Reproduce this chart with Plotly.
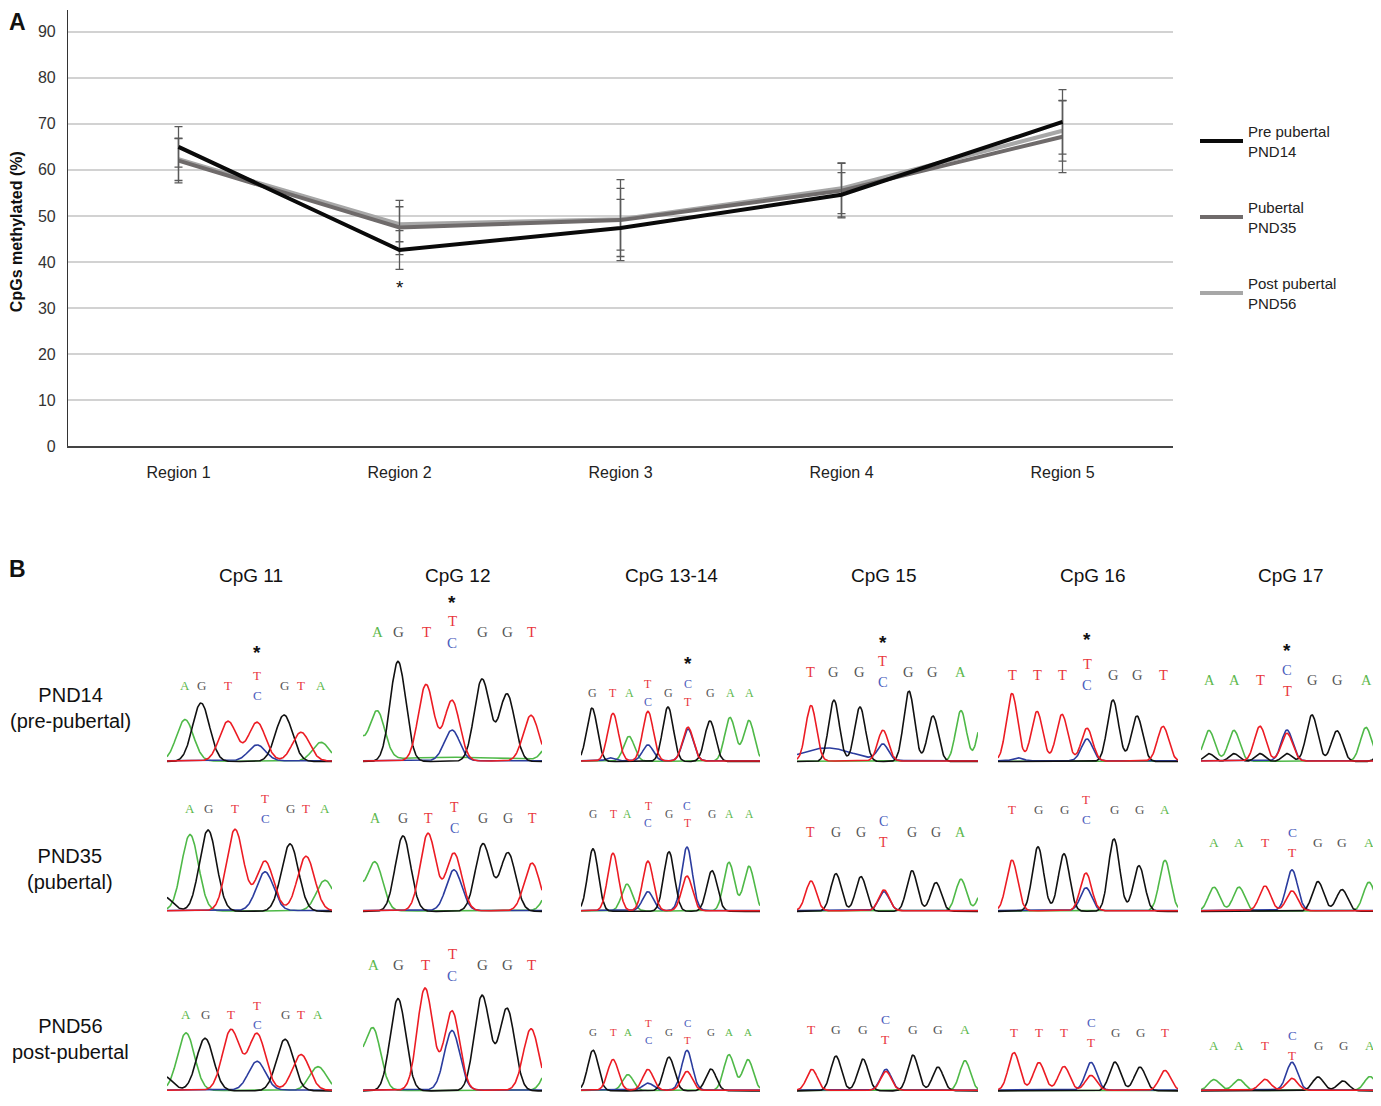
import numpy as np
import plotly.graph_objects as go

# ---------------- Panel A: methylation per region ----------------
regions = ["Region 1", "Region 2", "Region 3", "Region 4", "Region 5"]

pre_pubertal = [65.0, 42.6, 47.4, 54.6, 70.4]
pre_err = [4.4, 4.2, 6.2, 4.8, 7.0]

pubertal = [62.0, 47.5, 49.1, 55.5, 67.2]
pub_err = [4.8, 5.9, 8.8, 5.9, 7.8]

post_pubertal = [62.3, 48.2, 49.3, 56.0, 68.5]
post_err = [4.6, 3.8, 6.7, 5.5, 6.6]

# ---------------- Panel B: sequencing traces ----------------
cpg_titles = ["CpG 11", "CpG 12", "CpG 13-14", "CpG 15", "CpG 16", "CpG 17"]
stage_labels = ["PND14<br>(pre-pubertal)", "PND35<br>(pubertal)", "PND56<br>post-pubertal"]

# base calls: (call, scan offset, peak height[, height of second base])
pnd14 = [
    [("A", 18, 42), ("G", 34, 59), ("T", 61, 40), ("T/C", 90, 39, 16), ("G", 117, 47), ("T", 134, 29), ("A", 154, 19)],
    [("A", 14, 49), ("G", 35, 101), ("T", 63, 77), ("T/C", 89, 61, 31), ("G", 119, 83), ("G", 144, 68), ("T", 168, 46)],
    [("G", 11, 54), ("T", 32, 48), ("A", 48, 25), ("T/C", 67, 50, 16), ("G", 87, 55), ("C/T", 107, 32, 34),
     ("G", 129, 41), ("A", 149, 44), ("A", 168, 41)],
    [("T", 14, 56), ("G", 37, 62), ("G", 63, 55), ("T/C", 86, 31, 16), ("G", 112, 71), ("G", 136, 46), ("A", 164, 51)],
    [("T", 14, 68), ("T", 39, 50), ("T", 64, 47), ("T/C", 89, 33, 22), ("G", 115, 62), ("G", 139, 46), ("T", 165, 35)],
    [("A", 8, 31), ("A", 33, 31), ("T", 59, 35), ("C/T", 86, 31, 28), ("G", 111, 47), ("G", 136, 31), ("A", 165, 34)],
]
pnd35 = [
    [("A", 23, 77), ("G", 41, 82), ("T", 68, 82), ("T/C", 98, 50, 39), ("G", 123, 68), ("T", 139, 55), ("A", 158, 31)],
    [("A", 12, 49), ("G", 40, 76), ("T", 65, 78), ("T/C", 91, 58, 41), ("G", 120, 68), ("G", 145, 59), ("T", 169, 48)],
    [("G", 12, 63), ("T", 32, 58), ("A", 46, 27), ("T/C", 67, 50, 19), ("G", 88, 60), ("C/T", 106, 64, 35),
     ("G", 131, 41), ("A", 148, 49), ("A", 168, 45)],
    [("T", 14, 30), ("G", 39, 38), ("G", 64, 35), ("C/T", 87, 19, 21), ("G", 115, 41), ("G", 139, 29), ("A", 164, 32)],
    [("T", 14, 51), ("G", 40, 65), ("G", 66, 58), ("T/C", 88, 38, 23), ("G", 116, 73), ("G", 141, 46), ("A", 167, 51)],
    [("A", 13, 24), ("A", 38, 24), ("T", 64, 25), ("C/T", 91, 41, 20), ("G", 117, 30), ("G", 141, 22), ("A", 168, 29)],
]
pnd56 = [
    [("A", 19, 58), ("G", 38, 53), ("T", 64, 61), ("T/C", 90, 57, 29), ("G", 118, 52), ("T", 134, 36), ("A", 151, 24)],
    [("A", 10, 62), ("G", 35, 93), ("T", 62, 103), ("T/C", 89, 80, 60), ("G", 119, 96), ("G", 144, 83), ("T", 168, 62)],
    [("G", 12, 41), ("T", 32, 31), ("A", 47, 16), ("T/C", 67, 21, 7), ("G", 88, 34), ("C/T", 106, 40, 19),
     ("G", 130, 22), ("A", 148, 36), ("A", 167, 31)],
    [("T", 15, 21), ("G", 39, 35), ("G", 66, 32), ("C/T", 89, 21, 19), ("G", 116, 36), ("G", 141, 24), ("A", 168, 30)],
    [("T", 16, 38), ("T", 41, 28), ("T", 66, 24), ("C/T", 93, 28, 15), ("G", 117, 29), ("G", 142, 24), ("T", 167, 20)],
    [("A", 13, 11), ("A", 38, 11), ("T", 64, 11), ("C/T", 91, 28, 12), ("G", 117, 14), ("G", 142, 10), ("A", 169, 14)],
]

# signal outside the called bases: (channel, scan offset, height, width)
pnd14_extra = [
    [],
    [("A", -10, 35, 7.7), ("A", 190, 25, 7.7), ("A", 90, 4, 60)],
    [("C", 29, 3, 4)],
    [("C", 30, 13, 25), ("A", 186, 45, 5.3)],
    [("C", 20, 3, 5)],
    [("G", 8, 8, 5), ("G", 33, 8, 5), ("G", 59, 8, 5), ("G", 86, 8, 5), ("G", 180, 8, 5)],
]
pnd35_extra = [
    [("G", -3, 15, 8.5)],
    [("A", -10, 35, 7.7), ("A", 190, 30, 7.7)],
    [],
    [("A", 187, 25, 5.3)],
    [],
    [],
]
pnd56_extra = [
    [("G", -3, 15, 8.5)],
    [("A", -10, 40, 7.7), ("A", 190, 35, 7.7)],
    [],
    [],
    [],
    [],
]

# letter row height above baseline, star height (pre-pubertal only), letter size
pnd14_letters = [81, 135, 73, 95, 92, 86]
pnd35_letters = [108, 98, 102, 84, 107, 74]
pnd56_letters = [81, 131, 64, 66, 63, 50]
pnd14_stars = [116, 167, 105, 126, 129, 118]
star_slot = [3, 3, 5, 3, 3, 3]
letter_sizes = [[13, 15, 12, 14.5, 14.5, 14.5],
                [13, 14, 11.5, 14, 13, 13.5],
                [13, 15, 11, 13.5, 13, 13]]

# the page body adds an 8px margin, so the figure is laid out 8px in from the window
OFF = 8
W, H = 1373, 1098
FONT = "Arial, Liberation Sans, sans-serif"
BASE_FONT = "Liberation Serif, serif"


def fx(px):
    return (px - OFF) / W


def fy(py):
    return 1 - (py - OFF) / H


fig = go.Figure()

# Panel A traces, lightest first so black sits on top
series = [
    ("Post pubertal<br>PND56", post_pubertal, post_err, "#a7a7a7", 3),
    ("Pubertal<br>PND35", pubertal, pub_err, "#6f6b6b", 2),
    ("Pre pubertal<br>PND14", pre_pubertal, pre_err, "#0a0a0a", 1),
]
for name, vals, err, color, rank in series:
    fig.add_trace(
        go.Scatter(
            x=regions,
            y=vals,
            name=name,
            mode="lines",
            line=dict(color=color, width=4),
            error_y=dict(type="data", array=err, color="#5a5a5a", thickness=1.3, width=4),
            legendgroup=name,
            legendrank=rank,
        )
    )

# Panel B geometry
col_left = [167, 363, 581, 797, 998, 1201]
col_width = [165, 179, 179, 181, 180, 180]
row_base = [768, 919, 1100]
row_top = [590, 795, 955]
sigma = [8.5, 7.7, 5.3, 5.3, 5.6, 5.6]

trace_color = {"A": "#4fb948", "C": "#2b3c9e", "G": "#111111", "T": "#ec1c24"}
letter_color = {"A": "#5cb84c", "C": "#4a5cbc", "G": "#555555", "T": "#e8363c"}
base_offset = {"A": 0.6, "C": 1.0, "G": 0.2, "T": 0.8}

annotations = []
layout_axes = {}
stages = [pnd14, pnd35, pnd56]
extras = [pnd14_extra, pnd35_extra, pnd56_extra]
levels = [pnd14_letters, pnd35_letters, pnd56_letters]


def label(x, y, text, size, color="#111", family=FONT, xref="paper", yref="paper", **kw):
    return dict(x=x, y=y, xref=xref, yref=yref, text=text, showarrow=False,
                xanchor="center", yanchor="middle",
                font=dict(family=family, size=size, color=color), **kw)


n = 2
for r in range(3):
    for c in range(6):
        calls = stages[r][c]
        peaks = []
        for call in calls:
            for b, h in zip(call[0].split("/"), call[2:]):
                peaks.append((b, call[1], h, sigma[c]))
        peaks += extras[r][c]

        xs = np.linspace(0, col_width[c], 320)
        for ch in ["A", "C", "G", "T"]:
            ys = np.full_like(xs, base_offset[ch])
            for b, p, h, s in peaks:
                if b == ch:
                    ys += h * np.exp(-((xs - p) ** 2) / (2 * s * s))
            fig.add_trace(
                go.Scatter(
                    x=xs, y=ys, mode="lines",
                    line=dict(color=trace_color[ch], width=1.6),
                    xaxis=f"x{n}", yaxis=f"y{n}",
                    showlegend=False, hoverinfo="skip",
                )
            )

        fs = letter_sizes[r][c]
        lv = levels[r][c]
        for i, call in enumerate(calls):
            bases = call[0].split("/")
            if len(bases) == 1:
                spots = [(bases[0], lv)]
            else:
                spots = [(bases[0], lv + 0.75 * fs), (bases[1], lv - 0.75 * fs)]
            for b, yy in spots:
                annotations.append(label(call[1], yy, b, fs, letter_color[b], BASE_FONT,
                                         xref=f"x{n}", yref=f"y{n}", yshift=-4))
            if r == 0 and i == star_slot[c]:
                annotations.append(label(call[1], pnd14_stars[c] - 3, "<b>*</b>", 19,
                                         xref=f"x{n}", yref=f"y{n}", yshift=-3))

        hgt = row_base[r] - row_top[r]
        layout_axes[f"xaxis{n}"] = dict(
            domain=[fx(col_left[c]), fx(col_left[c] + col_width[c])],
            range=[0, col_width[c]], visible=False, anchor=f"y{n}",
        )
        layout_axes[f"yaxis{n}"] = dict(
            domain=[fy(row_base[r] + 3), fy(row_top[r])],
            range=[-3, hgt], visible=False, anchor=f"x{n}",
        )
        n += 1

# column titles and row labels
col_centers = [251, 457, 671, 884, 1092, 1290]
for t, cx in zip(cpg_titles, col_centers):
    annotations.append(label(fx(cx), fy(580), t, 19))
for t, cy in zip(stage_labels, [714, 876, 1048]):
    annotations.append(label(fx(70), fy(cy), t, 20))

# panel letters, axis title, significance mark
annotations += [
    label(fx(17), fy(22), "<b>A</b>", 23),
    label(fx(17), fy(574), "<b>B</b>", 23),
    label(fx(16), fy(234), "<b>CpGs methylated (%)</b>", 16, textangle=-90),
    label("Region 2", 34.5, "*", 19, xref="x", yref="y"),
]

fig.update_layout(
    width=W,
    height=H,
    margin=dict(l=0, r=0, t=0, b=0),
    paper_bgcolor="white",
    plot_bgcolor="white",
    font=dict(family=FONT, color="#222"),
    xaxis=dict(
        domain=[fx(68), fx(1173)], type="category", range=[-0.5, 4.5],
        showline=True, linecolor="#444", linewidth=1.5, showgrid=False,
        ticks="", tickfont=dict(size=16, color="#222"), anchor="y",
        ticklabelstandoff=11,
    ),
    yaxis=dict(
        domain=[fy(450), fy(10)], range=[0, 94.7],
        tickvals=list(range(0, 100, 10)), showgrid=True, gridcolor="#d2d2d2", gridwidth=1.5,
        showline=True, linecolor="#333", linewidth=1.2, zeroline=False,
        tickfont=dict(size=16, color="#333"), anchor="x",
        ticklabelstandoff=8,
    ),
    legend=dict(
        x=fx(1195), y=fy(116), xanchor="left", yanchor="top",
        font=dict(family=FONT, size=15, color="#222"),
        itemwidth=43, tracegroupgap=34, bgcolor="rgba(0,0,0,0)",
    ),
    annotations=annotations,
    **layout_axes,
)

fig.write_html("out.html")
